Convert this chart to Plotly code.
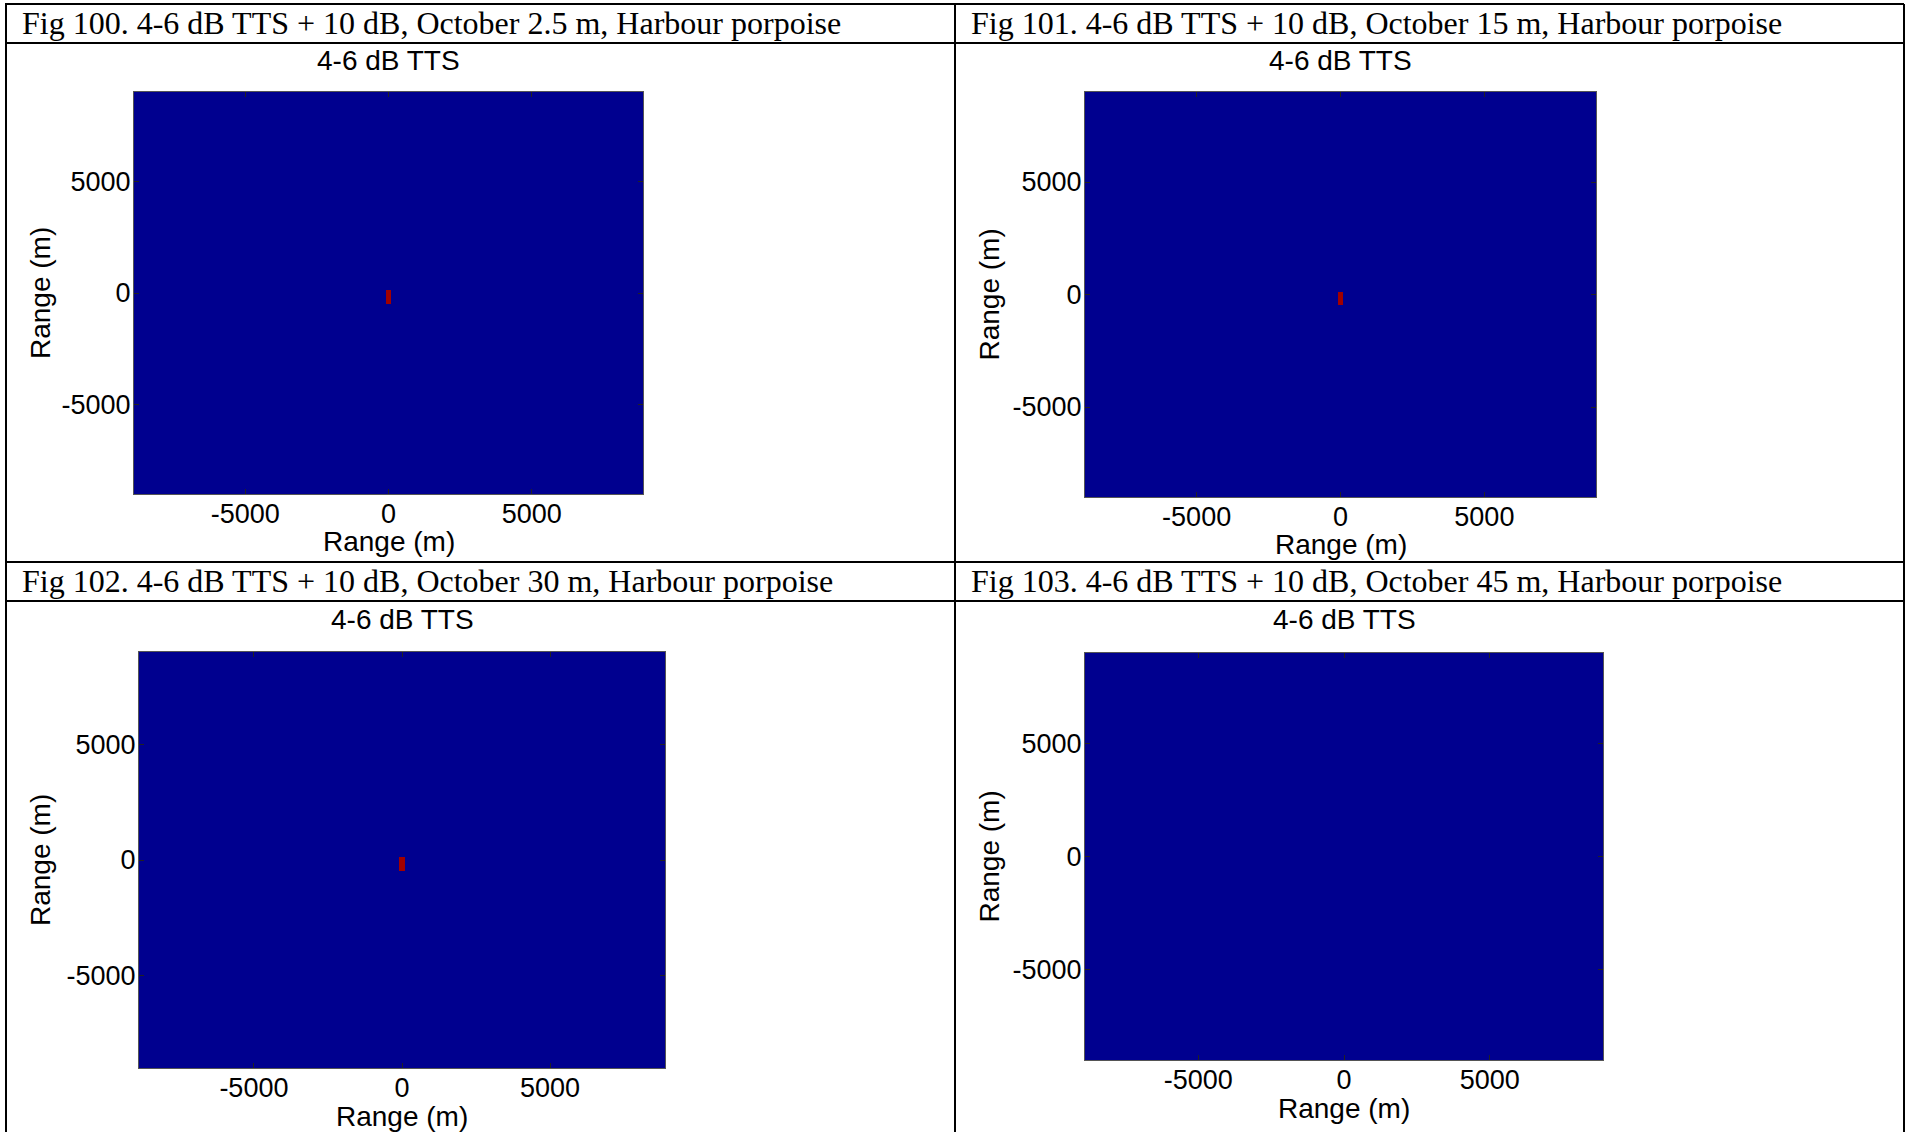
import plotly.graph_objects as go

W, H = 1910, 1132

# ---------------- data ----------------
captions = [
    "Fig 100. 4-6 dB TTS + 10 dB, October 2.5 m, Harbour porpoise",
    "Fig 101. 4-6 dB TTS + 10 dB, October 15 m, Harbour porpoise",
    "Fig 102. 4-6 dB TTS + 10 dB, October 30 m, Harbour porpoise",
    "Fig 103. 4-6 dB TTS + 10 dB, October 45 m, Harbour porpoise",
]
panel_title = "4-6 dB TTS"
axis_label = "Range (m)"
tick_vals = [-5000, 0, 5000]
tick_text = ["-5000", "0", "5000"]
x_range = [-8880, 8880]
y_range = [-9000, 9000]

# grid cell edges (m)
x_edges = [-8880, -100, 100, 8880]
y_edges = [-9000, -480, -280, -80, 120, 9000]

# exceedance maps (0 = below threshold, 1 = above)
z_fig100 = [[0, 0, 0], [0, 1, 0], [0, 1, 0], [0, 1, 0], [0, 0, 0]]
z_fig101 = [[0, 0, 0], [0, 1, 0], [0, 1, 0], [0, 1, 0], [0, 0, 0]]
z_fig102 = [[0, 0, 0], [0, 1, 0], [0, 1, 0], [0, 1, 0], [0, 0, 0]]
z_fig103 = [[0, 0, 0], [0, 0, 0], [0, 0, 0], [0, 0, 0], [0, 0, 0]]
z_maps = [z_fig100, z_fig101, z_fig102, z_fig103]

# ---------------- layout geometry (pixels) ----------------
# plot boxes: (left, right, top, bottom)
boxes = [
    (134, 643, 92, 494),
    (1085, 1596, 92, 497),
    (139, 665, 652, 1068),
    (1085, 1603, 653, 1060),
]
caption_pos = [(20, 23), (969, 23), (20, 581), (969, 581)]
title_y = [60, 60, 619, 619]
xtitle_y = [541, 544, 1116, 1108]
ytitle_x = [40, 989, 40, 989]

colorscale = [[0, "#00008F"], [1, "#A00000"]]
sans = "Liberation Sans, Arial, sans-serif"
serif = "Liberation Serif, Times New Roman, serif"

fig = go.Figure()
layout = dict(
    width=W, height=H, autosize=False,
    margin=dict(l=0, r=0, t=0, b=0, pad=0),
    paper_bgcolor="white", plot_bgcolor="white",
    showlegend=False,
)

annotations = []
for i, (z, box) in enumerate(zip(z_maps, boxes)):
    n = i + 1
    xa = "x" if n == 1 else f"x{n}"
    ya = "y" if n == 1 else f"y{n}"
    fig.add_trace(go.Heatmap(
        x=x_edges, y=y_edges, z=z, zmin=0, zmax=1,
        colorscale=colorscale, showscale=False, zsmooth=False,
        xaxis=xa, yaxis=ya, hoverinfo="skip",
    ))
    l, r, t, b = box
    common = dict(
        showgrid=False, zeroline=False,
        showline=True, linecolor="#555555", linewidth=1, mirror="ticks",
        ticks="inside", ticklen=5, tickwidth=1, tickcolor="#222222",
        tickvals=tick_vals, ticktext=tick_text,
        tickfont=dict(family=sans, size=27, color="black"),
        fixedrange=True,
    )
    layout["xaxis" if n == 1 else f"xaxis{n}"] = dict(
        common, domain=[l / W, r / W], range=x_range,
        anchor=ya, ticklabelstandoff=-4,
    )
    layout["yaxis" if n == 1 else f"yaxis{n}"] = dict(
        common, domain=[1 - b / H, 1 - t / H], range=y_range,
        anchor=xa, ticklabelstandoff=-3,
    )
    # panel title
    annotations.append(dict(
        text=panel_title, xref=xa, yref="paper",
        x=0, y=1 - title_y[i] / H,
        xanchor="center", yanchor="middle", showarrow=False,
        font=dict(family=sans, size=28, color="black"),
    ))
    # x axis title
    annotations.append(dict(
        text=axis_label, xref=xa, yref="paper",
        x=0, y=1 - xtitle_y[i] / H,
        xanchor="center", yanchor="middle", showarrow=False,
        font=dict(family=sans, size=28, color="black"),
    ))
    # y axis title
    annotations.append(dict(
        text=axis_label, xref="paper", yref=ya,
        x=ytitle_x[i] / W, y=0, textangle=-90,
        xanchor="center", yanchor="middle", showarrow=False,
        font=dict(family=sans, size=28, color="black"),
    ))
    cx, cy = caption_pos[i]
    annotations.append(dict(
        text=captions[i], xref="paper", yref="paper",
        x=cx / W, y=1 - cy / H, xanchor="left", yanchor="middle",
        showarrow=False, font=dict(family=serif, size=32, color="black"),
    ))

# table rules
def hline(y, x0=5, x1=1904):
    return dict(type="line", xref="paper", yref="paper",
                x0=x0 / W, x1=x1 / W, y0=1 - y / H, y1=1 - y / H,
                line=dict(color="black", width=2))

def vline(x, y0=4, y1=1132):
    return dict(type="line", xref="paper", yref="paper",
                x0=x / W, x1=x / W, y0=1 - y0 / H, y1=1 - y1 / H,
                line=dict(color="black", width=2))

shapes = [hline(4), hline(43), hline(562), hline(601),
          vline(6), vline(955), vline(1904)]

layout["annotations"] = annotations
layout["shapes"] = shapes
fig.update_layout(**layout)

fig.write_html(
    "out.html",
    config={"displayModeBar": False},
    post_script="document.body.style.margin='0';document.body.style.overflow='hidden';",
)
